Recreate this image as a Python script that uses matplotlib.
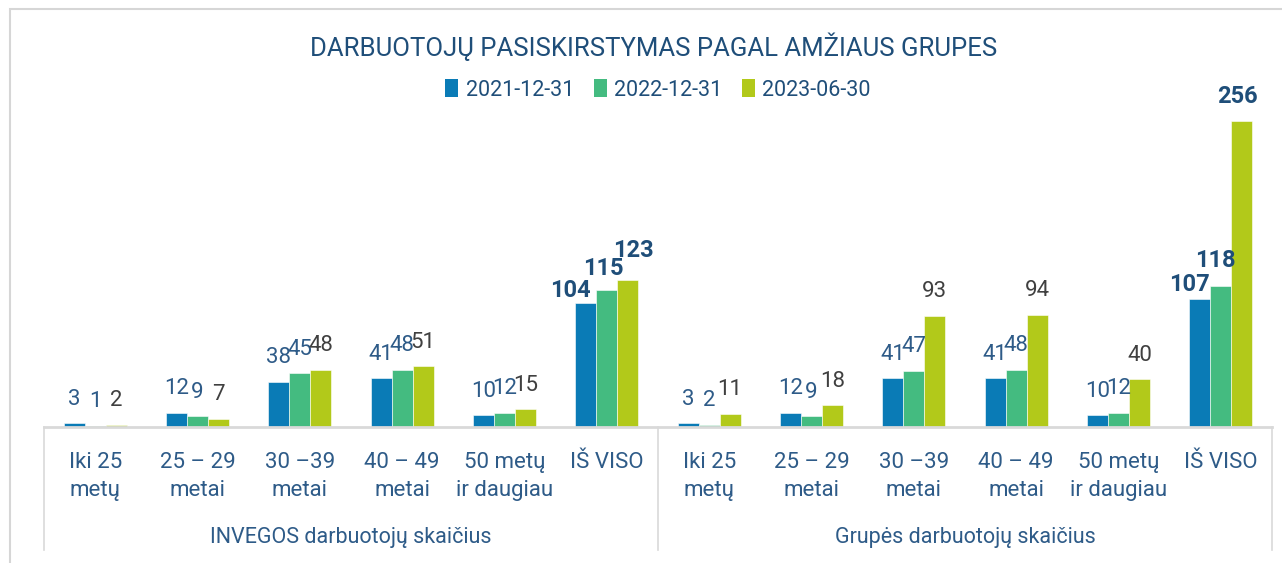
import numpy as np
import matplotlib
matplotlib.use('Agg')
import matplotlib.pyplot as plt
from matplotlib.patches import Rectangle, Patch
from matplotlib.lines import Line2D
from matplotlib.transforms import blended_transform_factory

plt.rcParams['font.family'] = ['Roboto', 'DejaVu Sans']

title = 'DARBUOTOJŲ PASISKIRSTYMAS PAGAL AMŽIAUS GRUPES'
series_names = ['2021-12-31', '2022-12-31', '2023-06-30']
categories = ['Iki 25\nmetų', '25 – 29\nmetai', '30 –39\nmetai', '40 – 49\nmetai',
              '50 metų\nir daugiau', 'IŠ VISO']
groups = ['INVEGOS darbuotojų skaičius', 'Grupės darbuotojų skaičius']

invega_2021 = [3, 12, 38, 41, 10, 104]
invega_2022 = [1, 9, 45, 48, 12, 115]
invega_2023 = [2, 7, 48, 51, 15, 123]
grupe_2021 = [3, 12, 41, 41, 10, 107]
grupe_2022 = [2, 9, 47, 48, 12, 118]
grupe_2023 = [11, 18, 93, 94, 40, 256]

series = [invega_2021 + grupe_2021, invega_2022 + grupe_2022, invega_2023 + grupe_2023]
colors = ['#0a7bb6', '#44bb80', '#b2c91a']
label_colors = ['#2e5b88', '#2e5b88', '#404040']
dark_blue = '#1f4e79'
text_blue = '#2e5b88'
grid_gray = '#d9d9d9'

# manual nudges (pixels) for the bold total labels, like the hand-placed ones in the original
total_nudge = {(0, 0): (-15, -12), (0, 1): (-4, -3), (0, 2): (6, 6),
               (1, 0): (-10, -9), (1, 1): (-5, 1), (1, 2): (-4, 1)}

W, H = 1282, 563
fig = plt.figure(figsize=(W / 100, H / 100), dpi=100)
fig.patch.set_facecolor('white')

def fy(py):
    return 1 - py / H

# outer chart frame (right/bottom cropped off)
fig.patches.append(Rectangle((10 / W, -0.05), 1.1, fy(9) + 0.05, transform=fig.transFigure,
                             fill=False, edgecolor='#d6d6d6', linewidth=1.5))

base_px, top_px = 427, 100
ax = fig.add_axes([44 / W, fy(base_px), 1228 / W, (base_px - top_px) / H])
ncat = len(categories)
n = ncat * len(groups)
x = np.arange(n)
bw = 0.205
px_per_unit = 1.195
ax.set_xlim(-0.5, n - 0.5)
ax.set_ylim(0, (base_px - top_px) / px_per_unit)
ax.axis('off')

for k, vals in enumerate(series):
    xs = x + (k - 1) * bw
    ax.bar(xs, vals, width=bw, color=colors[k], edgecolor='white', linewidth=0.4)
    for i, (xi, v) in enumerate(zip(xs, vals)):
        tot = (i % ncat) == ncat - 1
        dx, dy = total_nudge.get((i // ncat, k), (0, 0)) if tot else (0, 0)
        ax.annotate(str(v), (xi, v), xytext=(dx, 24 + dy), textcoords='offset pixels',
                    ha='center', va='center', fontsize=17 if tot else 16,
                    color=dark_blue if tot else label_colors[k],
                    fontweight='bold' if tot else 'normal')

# axis line and group separators
ax.plot([-0.5, n - 0.5], [0, 0], color=grid_gray, linewidth=2, clip_on=False)
tr = blended_transform_factory(ax.transData, fig.transFigure)
for sx in [-0.5, ncat - 0.5, n - 0.5]:
    fig.add_artist(Line2D([sx, sx], [fy(base_px), fy(550)], transform=tr,
                          color=grid_gray, linewidth=1.2))

# category labels
for i in range(n):
    ax.text(x[i], fy(452), categories[i % ncat], transform=tr,
            ha='center', va='top', fontsize=16, color=text_blue, linespacing=1.42)
for g, name in enumerate(groups):
    cx = g * ncat + (ncat - 1) / 2
    ax.text(cx, fy(537), name, transform=tr, ha='center', va='center',
            fontsize=15.5, color=text_blue)

fig.text(654 / W, fy(47), title, ha='center', va='center', fontsize=18.5, color=dark_blue)
handles = [Patch(facecolor=c, edgecolor='none') for c in colors]
fig.legend(handles, series_names, loc='center', bbox_to_anchor=(658 / W, fy(90)),
           ncol=3, frameon=False, fontsize=15.5, handlelength=0.6, handleheight=0.9,
           handletextpad=0.35, columnspacing=0.9, labelcolor=dark_blue)

fig.savefig('out.png', dpi=100, facecolor='white')
plt.close()
